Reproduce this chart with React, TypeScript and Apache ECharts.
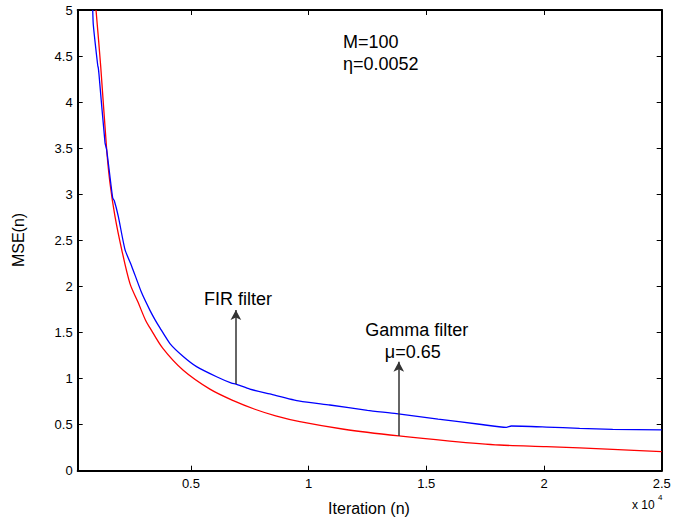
import React, { useEffect, useRef } from "react";
import * as echarts from "echarts";

// Gamma filter (red) learning curve
const gammaN = [968, 1167, 1422, 1562, 1774, 2059, 2411, 2750, 3077, 3260, 3800, 4673, 5806, 6800, 7716, 8600, 9626, 11500, 13830, 16000, 18110, 20100, 22920, 25000];
const gammaMSE = [5.0, 4.39, 3.48, 3.12, 2.76, 2.4, 2.03, 1.83, 1.63, 1.55, 1.33, 1.09, 0.885, 0.76, 0.667, 0.595, 0.532, 0.45, 0.377, 0.322, 0.279, 0.261, 0.232, 0.206];

// FIR filter (blue) learning curve
const firN = [828, 853, 1040, 1066, 1095, 1350, 1422, 1676, 1745, 1915, 2199, 2483, 2907, 3260, 3472, 3684, 4109, 4673, 5240, 6091, 6727, 6910, 7504, 8353, 9626, 10900, 12500, 13730, 15500, 17260, 18400, 18610, 20100, 21510, 22920, 25000];
const firMSE = [5.0, 4.84, 4.4, 4.37, 4.3, 3.56, 3.48, 2.96, 2.93, 2.76, 2.4, 2.22, 1.93, 1.74, 1.64, 1.55, 1.38, 1.24, 1.13, 1.02, 0.95, 0.94, 0.885, 0.833, 0.755, 0.713, 0.655, 0.62, 0.56, 0.504, 0.471, 0.485, 0.474, 0.46, 0.449, 0.442];

const xTicks = [5000, 10000, 15000, 20000, 25000];
const xMin = 190;
const xMax = 25000;
const yMin = 0;
const yMax = 5;
const yStep = 0.5;

// arrow annotations (in data units)
const firArrow = { n: 6910, from: 0.94, to: 1.745 };
const gammaArrow = { n: 13830, from: 0.377, to: 1.183 };

const FONT = "Liberation Sans, Arial, Helvetica, sans-serif";

export default function App() {
  const ref = useRef<HTMLDivElement>(null);
  useEffect(() => {
    const chart = echarts.init(ref.current!, null, { renderer: "svg" });
    const tickStyle = { color: "#000", width: 1 };
    const axisLineStyle = { color: "#000", width: 2 };
    chart.setOption({
      animation: false,
      backgroundColor: "#fff",
      grid: { left: 77.7, right: 12.3, top: 10, bottom: 54.3, show: false },
      xAxis: [
        {
          type: "value",
          min: xMin,
          max: xMax,
          position: "bottom",
          axisLine: { show: true, onZero: false, lineStyle: axisLineStyle },
          axisTick: { show: true, inside: true, length: 5, customValues: xTicks, lineStyle: tickStyle },
          axisLabel: {
            show: true,
            customValues: xTicks,
            formatter: (v: number) => String(v / 10000),
            color: "#000",
            fontSize: 13,
            fontFamily: FONT,
            margin: 6,
          },
          splitLine: { show: false },
        },
        {
          type: "value",
          min: xMin,
          max: xMax,
          position: "top",
          axisLine: { show: true, onZero: false, lineStyle: axisLineStyle },
          axisTick: { show: true, inside: true, length: 5, customValues: xTicks, lineStyle: tickStyle },
          axisLabel: { show: false },
          splitLine: { show: false },
        },
      ],
      yAxis: [
        {
          type: "value",
          min: yMin,
          max: yMax,
          interval: yStep,
          position: "left",
          axisLine: { show: true, onZero: false, lineStyle: axisLineStyle },
          axisTick: { show: true, inside: true, length: 5, lineStyle: tickStyle },
          axisLabel: {
            show: true,
            formatter: (v: number) => String(Math.round(v * 10) / 10),
            color: "#000",
            fontSize: 13,
            fontFamily: FONT,
            margin: 5,
          },
          splitLine: { show: false },
        },
        {
          type: "value",
          min: yMin,
          max: yMax,
          interval: yStep,
          position: "right",
          axisLine: { show: true, onZero: false, lineStyle: axisLineStyle },
          axisTick: { show: true, inside: true, length: 5, lineStyle: tickStyle },
          axisLabel: { show: false },
          splitLine: { show: false },
        },
      ],
      series: [
        {
          name: "Gamma filter",
          type: "line",
          xAxisIndex: 0,
          yAxisIndex: 0,
          showSymbol: false,
          symbol: "none",
          smooth: 0.3,
          lineStyle: { color: "#ff0000", width: 1.3 },
          data: gammaN.map((n, i) => [n, gammaMSE[i]]),
          markLine: {
            silent: true,
            symbol: ["none", "arrow"],
            symbolSize: [8, 10],
            label: { show: false },
            lineStyle: { color: "#333", width: 1.5, type: "solid" },
            data: [[{ coord: [gammaArrow.n, gammaArrow.from] }, { coord: [gammaArrow.n, gammaArrow.to] }]],
          },
        },
        {
          name: "FIR filter",
          type: "line",
          xAxisIndex: 0,
          yAxisIndex: 0,
          showSymbol: false,
          symbol: "none",
          smooth: 0.2,
          lineStyle: { color: "#0000ff", width: 1.3 },
          data: firN.map((n, i) => [n, firMSE[i]]),
          markLine: {
            silent: true,
            symbol: ["none", "arrow"],
            symbolSize: [8, 10],
            label: { show: false },
            lineStyle: { color: "#333", width: 1.5, type: "solid" },
            data: [[{ coord: [firArrow.n, firArrow.from] }, { coord: [firArrow.n, firArrow.to] }]],
          },
        },
      ],
      graphic: [
        {
          type: "text",
          x: 18,
          y: 240,
          rotation: Math.PI / 2,
          style: { text: "MSE(n)", fontSize: 16, fontFamily: FONT, fill: "#000", textAlign: "center", textVerticalAlign: "middle" },
        },
        {
          type: "text",
          x: 369,
          y: 508,
          style: { text: "Iteration (n)", fontSize: 16, fontFamily: FONT, fill: "#000", textAlign: "center", textVerticalAlign: "middle" },
        },
        {
          type: "text",
          x: 632,
          y: 505,
          style: { text: "x 10", fontSize: 12, fontFamily: FONT, fill: "#000", textAlign: "left", textVerticalAlign: "middle" },
        },
        {
          type: "text",
          x: 658,
          y: 497,
          style: { text: "4", fontSize: 8, fontFamily: FONT, fill: "#000", textAlign: "left", textVerticalAlign: "middle" },
        },
        {
          type: "text",
          x: 343,
          y: 42,
          style: { text: "M=100", fontSize: 18, fontFamily: FONT, fill: "#000", textAlign: "left", textVerticalAlign: "middle" },
        },
        {
          type: "text",
          x: 343,
          y: 64,
          style: { text: "η=0.0052", fontSize: 18, fontFamily: FONT, fill: "#000", textAlign: "left", textVerticalAlign: "middle" },
        },
        {
          type: "text",
          x: 238,
          y: 299,
          style: { text: "FIR filter", fontSize: 18, fontFamily: FONT, fill: "#000", textAlign: "center", textVerticalAlign: "middle" },
        },
        {
          type: "text",
          x: 416.7,
          y: 329.5,
          style: { text: "Gamma filter", fontSize: 18, fontFamily: FONT, fill: "#000", textAlign: "center", textVerticalAlign: "middle" },
        },
        {
          type: "text",
          x: 412.8,
          y: 352,
          style: { text: "μ=0.65", fontSize: 18, fontFamily: FONT, fill: "#000", textAlign: "center", textVerticalAlign: "middle" },
        },
      ],
    });
    return () => chart.dispose();
  }, []);
  return (
    <div
      ref={ref}
      style={{ position: "fixed", left: 0, top: 0, width: 674, height: 525, background: "#fff" }}
    />
  );
}
